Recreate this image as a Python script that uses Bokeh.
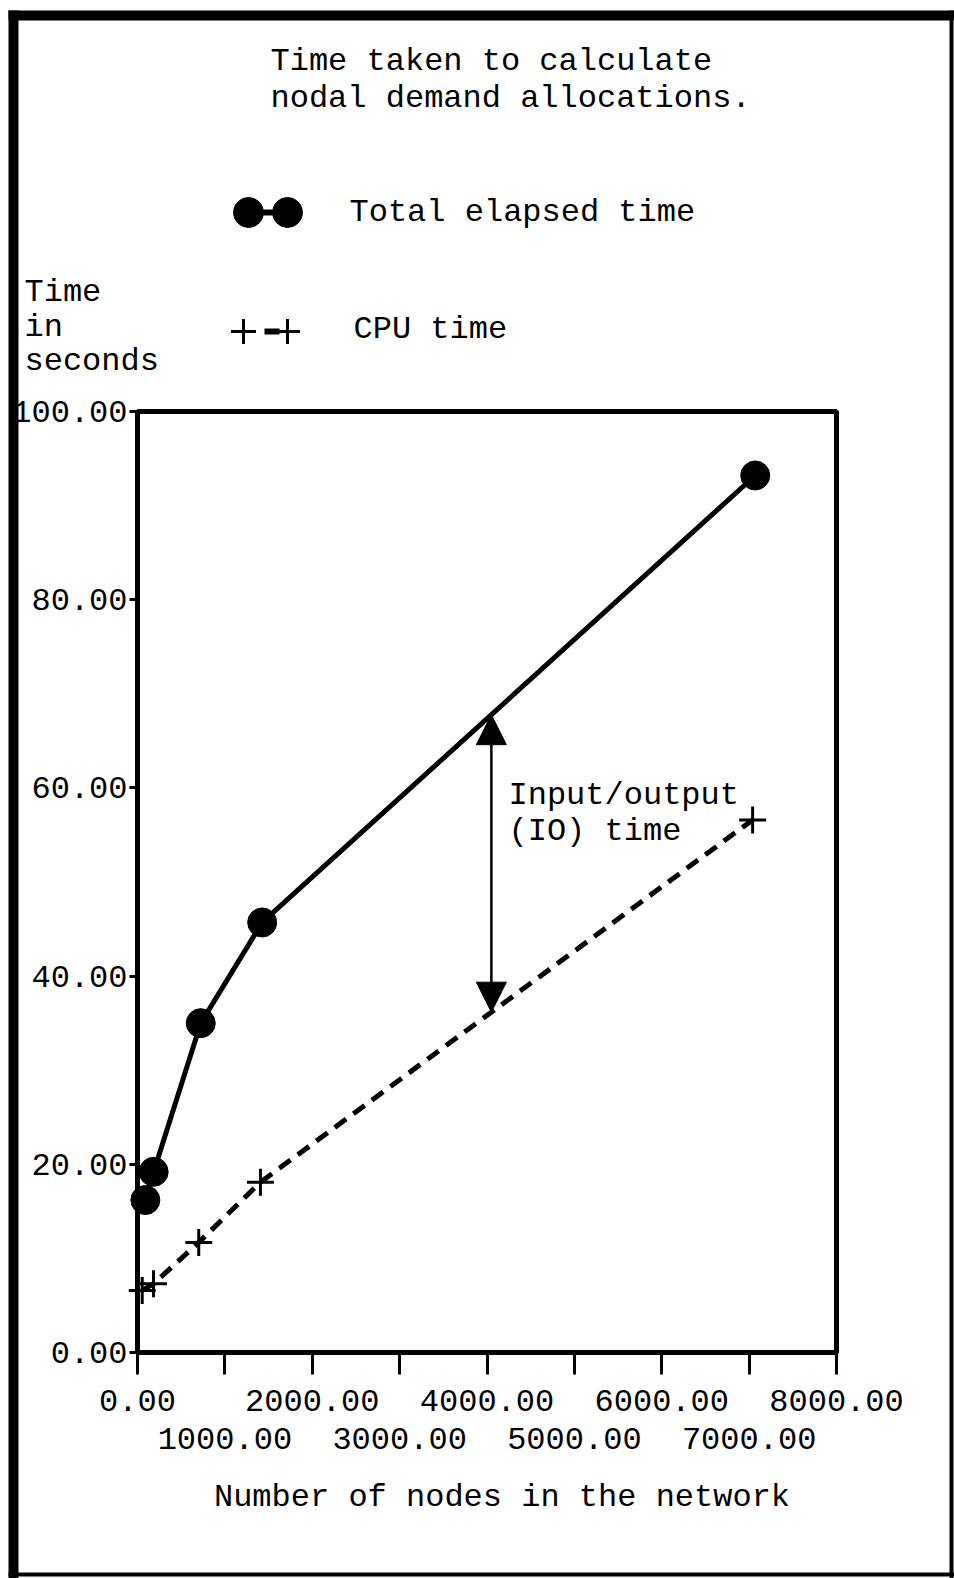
import numpy as np
from bokeh.plotting import figure
from bokeh.models import (Range1d, FixedTicker, NumeralTickFormatter, LinearAxis, Label,
                          Arrow, NormalHead, BoxAnnotation)
from bokeh.embed import file_html
from bokeh.resources import INLINE

# ---- data ----
nodes_total = [90, 185, 724, 1427, 7070]
total_time = [16.2, 19.2, 35.0, 45.7, 93.2]
nodes_cpu = [54, 183, 701, 1407, 7040]
cpu_time = [6.6, 7.3, 11.7, 18.1, 56.6]
x_ticks_upper = [0, 2000, 4000, 6000, 8000]
x_ticks_lower = [1000, 3000, 5000, 7000]
y_ticks = [0, 20, 40, 60, 80, 100]
io_node = 4050

title_lines = ["Time taken to calculate", "nodal demand allocations."]
ylabel_lines = ["Time", "in", "seconds"]
io_lines = ["Input/output", "(IO) time"]

FONT = "Liberation Mono"
FS = "32px"

W, H = 954, 1578
XMAX, YMAX = 8000, 100
# pixel positions of the plot box (layout)
X0_PX, X1_PX, Y0_PX, Y1_PX = 137, 836, 1352, 411
sx = XMAX / (X1_PX - X0_PX)
sy = YMAX / (Y0_PX - Y1_PX)


def dx(px):   # canvas pixel -> data x (layout helper)
    return (px - X0_PX) * sx


def dy(py):   # canvas pixel -> data y (layout helper)
    return (Y0_PX - py) * sy


p = figure(width=W, height=H,
           x_range=Range1d(dx(0), dx(W)), y_range=Range1d(dy(H), dy(0)),
           output_backend="svg", toolbar_location=None,
           min_border=0, x_axis_location=None, y_axis_location=None)
p.grid.visible = False
p.background_fill_color = "white"
p.border_fill_color = "white"
p.outline_line_color = None

fmt = NumeralTickFormatter(format="0.00")

yaxis = LinearAxis(ticker=FixedTicker(ticks=y_ticks, minor_ticks=[]), formatter=fmt,
                   fixed_location=0, bounds=(0, YMAX),
                   major_tick_out=8, major_tick_in=0, minor_tick_out=0, minor_tick_in=0,
                   major_tick_line_width=3, axis_line_width=4, major_label_standoff=2,
                   major_label_text_font=FONT, major_label_text_font_size=FS,
                   major_label_text_color="black")
p.add_layout(yaxis, "left")

xaxis1 = LinearAxis(ticker=FixedTicker(ticks=x_ticks_upper, minor_ticks=x_ticks_lower),
                    formatter=fmt, fixed_location=0, bounds=(0, XMAX),
                    major_tick_out=22, major_tick_in=0,
                    minor_tick_out=22, minor_tick_in=0,
                    major_tick_line_width=3, minor_tick_line_width=3,
                    axis_line_width=5, major_label_standoff=15,
                    major_label_text_font=FONT, major_label_text_font_size=FS,
                    major_label_text_color="black")
xaxis2 = LinearAxis(ticker=FixedTicker(ticks=x_ticks_lower, minor_ticks=[]), formatter=fmt,
                    fixed_location=0, bounds=(0, dx(866)),
                    axis_line_color=None, major_tick_line_color=None,
                    major_tick_out=0, major_tick_in=0, minor_tick_out=0, minor_tick_in=0,
                    major_label_standoff=75,
                    major_label_text_font=FONT, major_label_text_font_size=FS,
                    major_label_text_color="black",
                    axis_label="Number of nodes in the network", axis_label_standoff=27,
                    axis_label_text_font=FONT, axis_label_text_font_size=FS,
                    axis_label_text_font_style="normal", axis_label_text_color="black")
p.add_layout(xaxis1, "below")
p.add_layout(xaxis2, "below")

# plot box (top and right edges)
p.add_layout(BoxAnnotation(left=0, right=XMAX, bottom=0, top=YMAX, fill_alpha=0,
                           line_color="black", line_alpha=1.0, line_width=5))

# ---- series ----
p.line(nodes_total, total_time, line_color="black", line_width=5)
p.scatter(nodes_total, total_time, marker="circle", size=29, fill_color="black", line_color="black")
p.line(nodes_cpu, cpu_time, line_color="black", line_width=5, line_dash="14 9")
p.scatter(nodes_cpu, cpu_time, marker="cross", size=27, line_color="black", line_width=3)

# ---- IO double arrow ----
y_lo = float(np.interp(io_node, nodes_cpu, cpu_time))
y_hi = float(np.interp(io_node, nodes_total, total_time))
p.add_layout(Arrow(start=NormalHead(size=30, fill_color="black", line_color="black"),
                   end=NormalHead(size=30, fill_color="black", line_color="black"),
                   x_start=io_node, y_start=y_lo, x_end=io_node, y_end=y_hi,
                   line_color="black", line_width=2.5))


def label(x, y, text):
    p.add_layout(Label(x=dx(x), y=dy(y), text=text, text_baseline="middle", text_align="left",
                       text_font=FONT, text_font_size=FS, text_color="black"))


def seg(x0, y0, x1, y1, w):
    p.add_layout(Arrow(end=None, x_start=dx(x0), y_start=dy(y0), x_end=dx(x1), y_end=dy(y1),
                       line_color="black", line_width=w))


label(508, 795, io_lines[0])
label(508, 831, io_lines[1])

# title
label(270, 61, title_lines[0])
label(270, 98, title_lines[1])

# y label
for i, t in enumerate(ylabel_lines):
    label(24, 292 + 34.5 * i, t)

# legend
label(349, 212, "Total elapsed time")
label(353, 329, "CPU time")
seg(248, 212, 287, 212, 6)
p.scatter([dx(248), dx(287)], [dy(212), dy(212)], marker="circle", size=30,
          fill_color="black", line_color="black")
p.scatter([dx(243), dx(287)], [dy(331), dy(331)], marker="cross", size=25,
          line_color="black", line_width=3)
seg(264, 331, 279, 331, 6)

# page border
seg(13, 10, 13, 1578, 10)
seg(8, 15, 954, 15, 10)
seg(951, 10, 951, 1578, 4)
seg(8, 1574, 954, 1574, 4)

open("out.html", "w").write(file_html(p, INLINE))
